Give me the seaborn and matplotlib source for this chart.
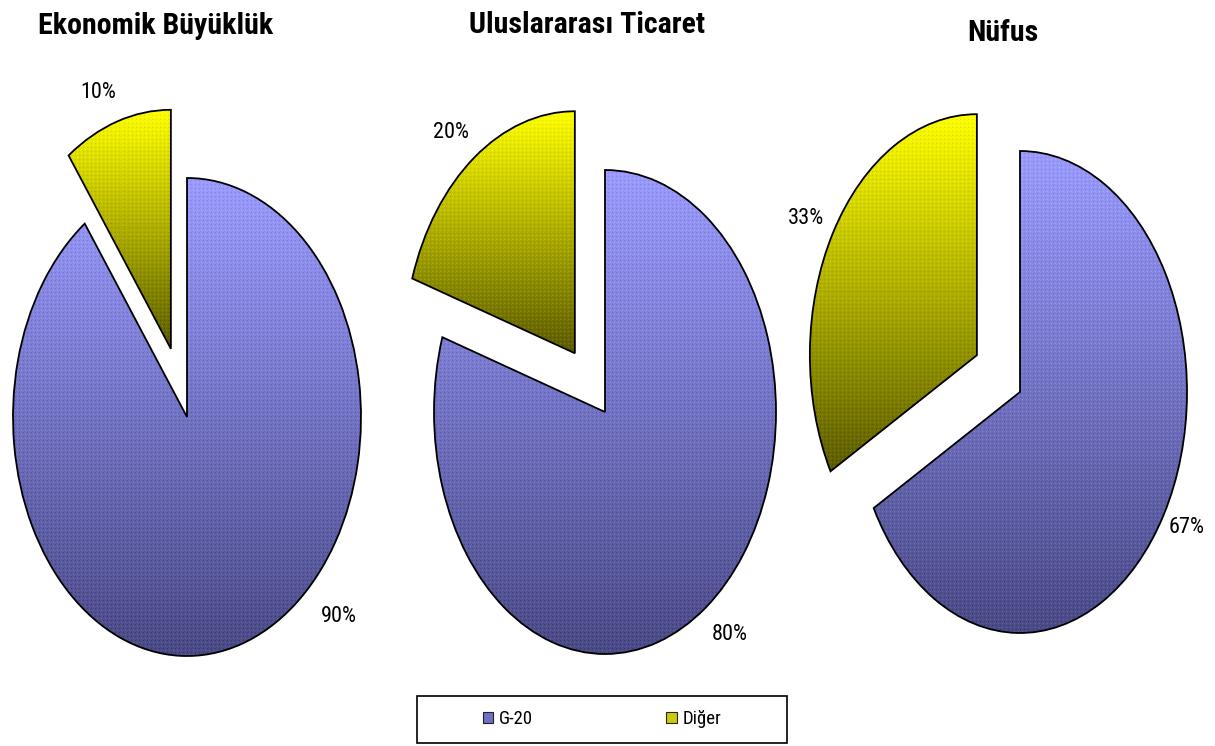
import numpy as np
import pandas as pd
import seaborn as sns
import matplotlib
matplotlib.use("Agg")
import matplotlib.pyplot as plt
from matplotlib import font_manager
from matplotlib.patches import Patch, Rectangle

# ---- data -------------------------------------------------------------
TITLES = ["Ekonomik Büyüklük", "Uluslararası Ticaret", "Nüfus"]
SERIES = ["G-20", "Diğer"]
G20_SHARE = [90, 80, 67]
OTHER_SHARE = [10, 20, 33]

df = pd.DataFrame({"panel": TITLES, SERIES[0]: G20_SHARE, SERIES[1]: OTHER_SHARE})

# ---- layout (pixels on a 1215 x 746 canvas) ---------------------------
W, H = 1215, 746
PIE_CENTER_PX = [(187, 417), (605, 412), (1020, 392)]
PIE_RADII_PX = [(174, 239), (171, 242), (167, 241)]
TITLE_POS_PX = [(156, 34), (587, 33), (1003, 41)]
# percentage label anchors, in pie-radius units relative to each pie centre
LABEL_XY = [
    [(0.874, -0.833), (-0.511, 1.356)],
    [(0.731, -0.921), (-0.901, 1.153)],
    [(1.000, -0.564), (-1.281, 0.718)],
]
EXPLODE = [0.0, 0.3]

# vertical gradients (top colour, bottom colour) per series
GRADIENTS = [((155, 155, 255), (74, 74, 134)), ((255, 255, 0), (92, 92, 0))]
LEGEND_COLORS = ["#6f6fc8", "#cccc00"]

sns.set_theme(style="white")

# pick a narrow face if one is installed
_fonts = font_manager.fontManager.ttflist
_names = {f.name for f in _fonts}
NARROW_STRETCH = "normal"
NARROW_SCALE = 0.78
for cand in ["Liberation Sans Narrow", "Roboto Condensed", "Open Sans Condensed",
             "Noto Sans Condensed", "DejaVu Sans Condensed", "Arial Narrow"]:
    if cand in _names:
        NARROW = [cand, "DejaVu Sans"]
        NARROW_SCALE = 1.0
        break
else:
    cond = [f for f in _fonts if f.stretch in ("condensed", "semi-condensed", 75, 87)]
    if cond:
        NARROW = [cond[0].name, "DejaVu Sans"]
        NARROW_STRETCH = "condensed"
        NARROW_SCALE = 1.0
    else:
        NARROW = ["Liberation Sans", "DejaVu Sans"]

plt.rcParams["font.family"] = NARROW
plt.rcParams["text.color"] = "black"

FONT = dict(family=NARROW, stretch=NARROW_STRETCH)

fig = plt.figure(figsize=(W / 100, H / 100), dpi=100)
fig.patch.set_facecolor("white")


def gradient_image(h_px, w_px, top, bottom):
    t = np.linspace(0.0, 1.0, max(h_px, 2))[:, None, None]
    top = np.array(top, float) / 255.0
    bottom = np.array(bottom, float) / 255.0
    img = top + (bottom - top) * t
    img = np.repeat(img, max(w_px, 2), axis=1)
    # fine dot screen over the shaded fill
    ii, jj = np.indices(img.shape[:2])
    light = (ii % 4 == 0) & (jj % 4 == 0)
    dark = (ii % 4 == 2) & (jj % 4 == 2)
    img[light] = np.clip(img[light] + 0.09, 0, 1)
    img[dark] = np.clip(img[dark] - 0.09, 0, 1)
    return img


L = 1.6
for i, row in df.iterrows():
    cx, cy = PIE_CENTER_PX[i]
    rx, ry = PIE_RADII_PX[i]
    ax = fig.add_axes([(cx - L * rx) / W, 1 - (cy + L * ry) / H,
                       2 * L * rx / W, 2 * L * ry / H])
    ax.patch.set_alpha(0)
    values = [row[SERIES[0]], row[SERIES[1]]]
    wedges, _ = ax.pie(values, startangle=90, counterclock=False,
                       explode=EXPLODE,
                       wedgeprops=dict(facecolor="none", edgecolor="black",
                                       linewidth=1.3, zorder=3))
    for w, (top, bottom) in zip(wedges, GRADIENTS):
        ext = w.get_path().get_extents()
        x0, y0, x1, y1 = ext.x0, ext.y0, ext.x1, ext.y1
        img = gradient_image(int(round((y1 - y0) * ry)),
                             int(round((x1 - x0) * rx)), top, bottom)
        im = ax.imshow(img, extent=(x0, x1, y0, y1), origin="upper",
                       aspect="auto", interpolation="nearest", zorder=2)
        im.set_clip_path(w)
    ax.set_aspect("auto")
    ax.set_xlim(-L, L)
    ax.set_ylim(-L, L)
    ax.axis("off")

    for v, (lx, ly) in zip(values, LABEL_XY[i]):
        ax.text(lx, ly, f"{v}%", ha="center", va="center",
                fontsize=16 * NARROW_SCALE ** 0.5, color="black", **FONT)

    tx, ty = TITLE_POS_PX[i]
    fig.text(tx / W, 1 - ty / H, row["panel"], ha="center", va="baseline",
             fontsize=21.5 * NARROW_SCALE, fontweight="bold", color="black",
             **FONT)

# legend box
handles = [Patch(facecolor=c, edgecolor="#222222", linewidth=0.8)
           for c in LEGEND_COLORS]
fig.legend(handles, SERIES, ncol=2, loc="center",
           bbox_to_anchor=(602 / W, 1 - 719 / H), frameon=False,
           handlelength=0.55, handleheight=0.55, handletextpad=0.3,
           columnspacing=7.1, labelcolor="black",
           prop={"family": NARROW, "stretch": NARROW_STRETCH, "size": 13.5})
fig.patches.append(Rectangle((417 / W, 1 - 743 / H), 370 / W, 47 / H,
                             transform=fig.transFigure, fill=False,
                             edgecolor="black", linewidth=1.2))

fig.savefig("out.png", dpi=100, facecolor="white")
